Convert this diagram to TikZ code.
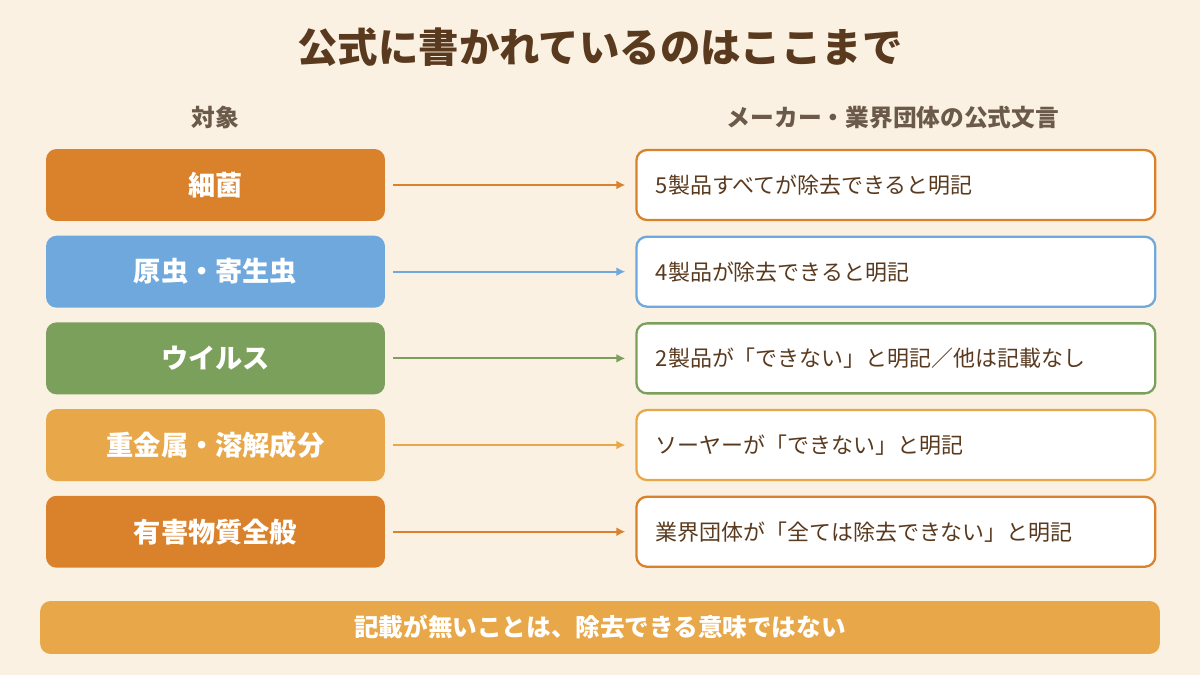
\documentclass[tikz,border=0pt]{standalone}
\usepackage{fontspec}
\setmainfont{Noto Sans CJK JP}
\usetikzlibrary{positioning, arrows.meta}
\definecolor{bgcream}{HTML}{FAF1E3}
\definecolor{brownink}{HTML}{5A3A1E}
\definecolor{headgray}{HTML}{6B5A4A}
\definecolor{deeporange}{HTML}{D9822B}
\definecolor{skyblue}{HTML}{6FA8DC}
\definecolor{leafgreen}{HTML}{7BA05B}
\definecolor{softorange}{HTML}{E8A84A}

\begin{document}
\begin{tikzpicture}
        [x=0.02cm, y=-0.02cm,
        target/.style={rounded corners=6pt, minimum width=6.78cm, minimum height=1.44cm,
          text=white, font=\bfseries\fontsize{15.5}{15.5}\selectfont, inner sep=0pt},
        quote/.style={draw, line width=1.3pt, fill=white, rounded corners=6pt,
          minimum width=10.38cm, minimum height=1.4cm, text=brownink,
          font=\fontsize{12.5}{12.5}\selectfont, text width=9.6cm, align=left, inner sep=0pt},
        link/.style={-{Latex[length=5pt,width=5pt]}, line width=1pt},
        heading/.style={font=\bfseries\fontsize{13.5}{13.5}\selectfont, text=headgray}]

    \fill[bgcream] (0,0) rectangle (1200,675);

    \node (title) [font=\bfseries\fontsize{23}{23}\selectfont, text=brownink] at (600,47)
      {公式に書かれているのはここまで};
    \node (lhead) [heading] at (215,118) {対象};
    \node (rhead) [heading] at (893,118) {メーカー・業界団体の公式文言};

    % left column
    \node (bact) [target, fill=deeporange] at (215.5,185) {細菌};
    \node (para) [target, fill=skyblue, below=0.28cm of bact] {原虫・寄生虫};
    \node (viru) [target, fill=leafgreen, below=0.28cm of para] {ウイルス};
    \node (meta) [target, fill=softorange, below=0.28cm of viru] {重金属・溶解成分};
    \node (harm) [target, fill=deeporange, below=0.28cm of meta] {有害物質全般};

    % right column
    \node (qbact) [quote, draw=deeporange, right=5cm of bact] {5製品すべてが除去できると明記};
    \node (qpara) [quote, draw=skyblue, right=5cm of para] {4製品が除去できると明記};
    \node (qviru) [quote, draw=leafgreen, right=5cm of viru] {2製品が「できない」と明記／他は記載なし};
    \node (qmeta) [quote, draw=softorange, right=5cm of meta] {ソーヤーが「できない」と明記};
    \node (qharm) [quote, draw=deeporange, right=5cm of harm] {業界団体が「全ては除去できない」と明記};

    \draw[link, deeporange] ([xshift=0.16cm]bact.east) -- ([xshift=-0.2cm]qbact.west);
    \draw[link, skyblue] ([xshift=0.16cm]para.east) -- ([xshift=-0.2cm]qpara.west);
    \draw[link, leafgreen] ([xshift=0.16cm]viru.east) -- ([xshift=-0.2cm]qviru.west);
    \draw[link, softorange] ([xshift=0.16cm]meta.east) -- ([xshift=-0.2cm]qmeta.west);
    \draw[link, deeporange] ([xshift=0.16cm]harm.east) -- ([xshift=-0.2cm]qharm.west);

    \node (note) [fill=softorange, rounded corners=6pt, minimum width=22.4cm, minimum height=1.06cm,
      text=white, font=\bfseries\fontsize{14}{14}\selectfont] at (600,627.5)
      {記載が無いことは、除去できる意味ではない};
\end{tikzpicture}
\end{document}
